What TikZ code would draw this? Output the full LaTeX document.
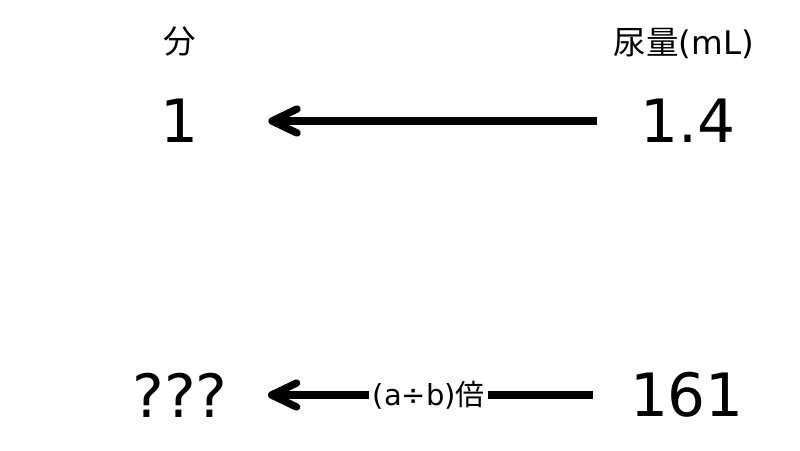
\documentclass[tikz,border=0pt]{standalone}
\usepackage{fontspec}
\setmainfont{DejaVu Sans}
\newfontfamily\cjk{Noto Sans CJK JP}
\usetikzlibrary{arrows.meta}

\begin{document}
\begin{tikzpicture}[x=0.02cm,y=-0.02cm,
        big/.style={inner sep=0,font=\fontsize{34}{40}\selectfont},
        lab/.style={font=\fontsize{18.5}{20}\selectfont},
        arr/.style={line width=4.2pt,-{Straight Barb[length=0.5cm,width=0.48cm,round]}}]
        
        \useasboundingbox (0,0) rectangle (800,450);
        
        %上排
        \node [lab] (unit) at (180,42) {\cjk 分};
        \node [lab] (urine) at (684,44) {{\cjk 尿量}(mL)};
        \node [big] (v1) at (180,121) {1};
        \node [big] (v14) at (688,121) {1.4};
        \draw [arr, shorten <=0.86cm, shorten >=1.38cm] (v14.west) -- (v1.east);
        
        %下排
        \node [big] (q) at (180,395) {???};
        \node [big] (v161) at (687,395) {161};
        \draw [arr, shorten <=0.74cm, shorten >=0.8cm] (v161.west) -- (q.east)
            node [midway, fill=white, inner sep=2pt, font=\fontsize{16.5}{18}\selectfont] (times) {(a÷b){\cjk 倍}};
\end{tikzpicture}
\end{document}
